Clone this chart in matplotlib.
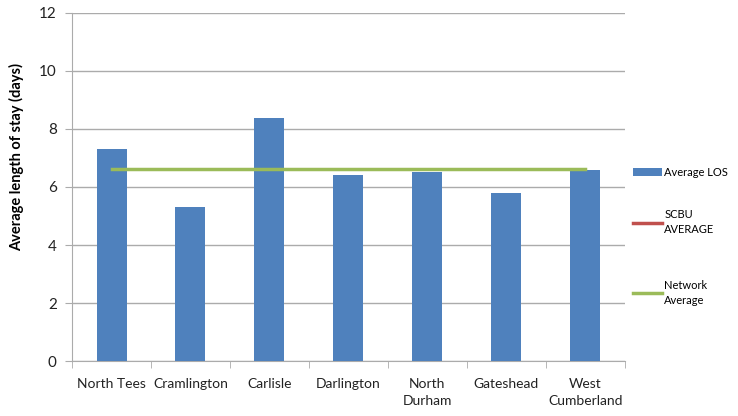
import matplotlib.pyplot as plt
import numpy as np

# Datos
units = ['North Tees', 'Cramlington', 'Carlisle', 'Darlington',
         'North\nDurham', 'Gateshead', 'West\nCumberland']
avg_los = [7.31, 5.30, 8.38, 6.41, 6.52, 5.79, 6.57]
scbu_avg = [np.nan] * 7
network_avg = [6.61] * 7

plt.rcParams['font.family'] = ['Lato', 'DejaVu Sans']

fig = plt.figure(figsize=(7.38, 4.16), dpi=100)
ax = fig.add_axes([0.0976, 0.132, 0.749, 0.837])

x = np.arange(len(units))
bars = ax.bar(x, avg_los, width=0.38, color='#4F81BD', zorder=3)
l_scbu, = ax.plot(x, scbu_avg, color='#C0504D', lw=2.5, zorder=4)
l_net, = ax.plot(x, network_avg, color='#9BBB59', lw=2.5, zorder=4)

ax.set_xlim(-0.5, len(units) - 0.5)
ax.set_ylim(0, 12)
ax.set_yticks(range(0, 13, 2))
ax.yaxis.grid(True, color='#ABABAB', lw=1, zorder=0)

ax.set_xticks(x)
ax.set_xticklabels(units, fontsize=10, color='#222222', linespacing=1.5)
ax.set_xticks(np.arange(-0.5, len(units)), minor=True)
ax.tick_params(axis='x', which='major', length=0, pad=12)
ax.tick_params(axis='x', which='minor', length=5, color='#ABABAB')
ax.tick_params(axis='y', length=5, color='#ABABAB', labelsize=11,
               labelcolor='#222222', pad=6)

for s in ['top', 'right']:
    ax.spines[s].set_visible(False)
for s in ['left', 'bottom']:
    ax.spines[s].set_color('#ABABAB')

ax.set_ylabel('Average length of stay (days)', fontsize=10.5,
              fontweight='bold')
ax.yaxis.set_label_coords(-0.086, 0.585)

# Leyenda: una entrada por posicion
entries = [(bars, 'Average LOS', 0.586), (l_scbu, 'SCBU\nAVERAGE', 0.466),
           (l_net, 'Network\nAverage', 0.296)]
for h, lab, yy in entries:
    leg = fig.legend([h], [lab], loc='center left', bbox_to_anchor=(0.858, yy),
                     frameon=False, fontsize=8, handlelength=2.6,
                     handletextpad=0.2, borderaxespad=0, borderpad=0,
                     labelspacing=0.3)
    for t in leg.get_texts():
        t.set_multialignment('left')
        t.set_linespacing(1.5)

plt.savefig('out.png', dpi=100)
